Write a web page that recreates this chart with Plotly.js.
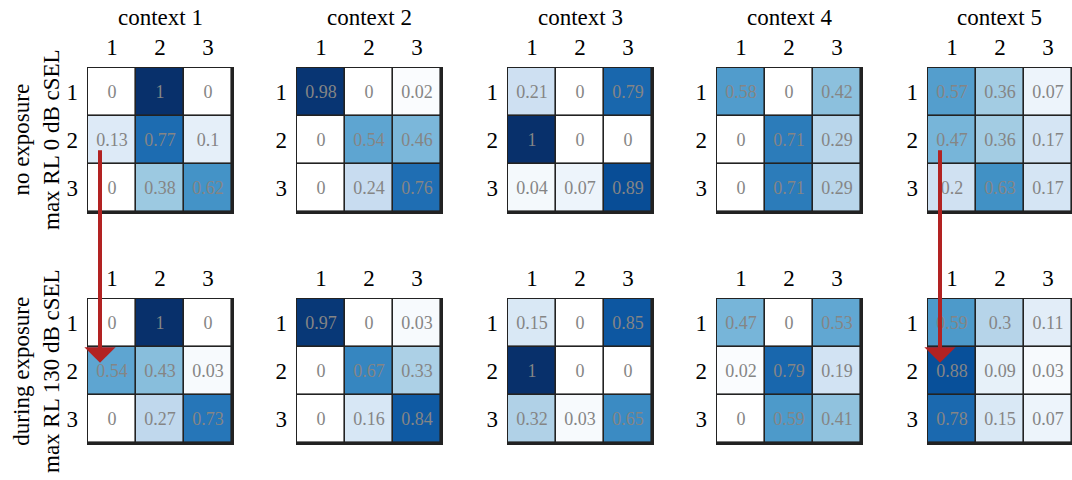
<!DOCTYPE html>
<html>
<head>
<meta charset="utf-8">
<script src="https://cdn.plot.ly/plotly-3.0.1.min.js"></script>
<style>html,body{margin:0;padding:0;background:#fff;}#chart{width:1072px;height:480px;}</style>
</head>
<body>
<div id="chart"></div>
<script>
// ---- data ----
const contexts = ['context 1', 'context 2', 'context 3', 'context 4', 'context 5'];
const stateLabels = ['1', '2', '3'];
const rowTitles = ['no exposure<br>max RL 0 dB cSEL', 'during exposure<br>max RL 130 dB cSEL'];

// no exposure (max RL 0 dB cSEL)
const noExp1 = [[0, 1, 0], [0.13, 0.77, 0.1], [0, 0.38, 0.62]];
const noExp2 = [[0.98, 0, 0.02], [0, 0.54, 0.46], [0, 0.24, 0.76]];
const noExp3 = [[0.21, 0, 0.79], [1, 0, 0], [0.04, 0.07, 0.89]];
const noExp4 = [[0.58, 0, 0.42], [0, 0.71, 0.29], [0, 0.71, 0.29]];
const noExp5 = [[0.57, 0.36, 0.07], [0.47, 0.36, 0.17], [0.2, 0.63, 0.17]];

// during exposure (max RL 130 dB cSEL)
const duringExp1 = [[0, 1, 0], [0.54, 0.43, 0.03], [0, 0.27, 0.73]];
const duringExp2 = [[0.97, 0, 0.03], [0, 0.67, 0.33], [0, 0.16, 0.84]];
const duringExp3 = [[0.15, 0, 0.85], [1, 0, 0], [0.32, 0.03, 0.65]];
const duringExp4 = [[0.47, 0, 0.53], [0.02, 0.79, 0.19], [0, 0.59, 0.41]];
const duringExp5 = [[0.59, 0.3, 0.11], [0.88, 0.09, 0.03], [0.78, 0.15, 0.07]];

// highlighted transitions (context index, row state, column state)
const arrowContexts = [0, 4];
const arrowState = 1; // state 2, first column

// ---- build ----
const rows = [[noExp1, noExp2, noExp3, noExp4, noExp5], [duringExp1, duringExp2, duringExp3, duringExp4, duringExp5]];
const W = 1072, H = 480;
const gridLeft = [88, 297, 508, 717, 928];
const gridW = 144;
const gridTop = [68, 299];
const gridH = 144;
const serif = 'Liberation Serif, Times New Roman, serif';
const blues = [
  [0, '#ffffff'], [0.125, '#deebf7'], [0.25, '#c6dbef'], [0.375, '#9ecae1'],
  [0.5, '#6baed6'], [0.625, '#4292c6'], [0.75, '#2171b5'], [0.875, '#08519c'], [1, '#08306b']
];
const idx = [0, 1, 2];

const traces = [];
const layout = {
  width: W, height: H,
  margin: {l: 0, r: 0, t: 0, b: 0},
  paper_bgcolor: '#ffffff',
  plot_bgcolor: '#222222',
  showlegend: false,
  font: {family: serif, color: '#000'},
  annotations: [],
  shapes: []
};

rows.forEach((mats, r) => {
  mats.forEach((z, c) => {
    const n = r * 5 + c + 1;
    const xa = 'x' + (n === 1 ? '' : n), ya = 'y' + (n === 1 ? '' : n);
    traces.push({
      type: 'heatmap', z: z, x: idx, y: idx,
      xaxis: xa, yaxis: ya,
      zmin: 0, zmax: 1, colorscale: blues, showscale: false,
      xgap: 1.6, ygap: 1.6,
      texttemplate: '%{z}',
      textfont: {family: serif, size: 18, color: '#858585'},
      hoverinfo: 'skip'
    });
    const xk = 'xaxis' + (n === 1 ? '' : n), yk = 'yaxis' + (n === 1 ? '' : n);
    layout[xk] = {
      domain: [gridLeft[c] / W, (gridLeft[c] + gridW) / W],
      anchor: ya, side: 'top', range: [-0.5, 2.5],
      tickmode: 'array', tickvals: idx, ticktext: stateLabels,
      ticks: '', ticklabelstandoff: 2,
      tickfont: {family: serif, size: 23, color: '#000'},
      showgrid: false, zeroline: false,
      showline: true, mirror: true, linecolor: '#222', linewidth: 1.5
    };
    layout[yk] = {
      domain: [1 - (gridTop[r] + gridH) / H, 1 - gridTop[r] / H],
      anchor: xa, range: [2.5, -0.5],
      tickmode: 'array', tickvals: idx, ticktext: stateLabels,
      ticks: '', ticklabelstandoff: 4,
      tickfont: {family: serif, size: 23, color: '#000'},
      showgrid: false, zeroline: false,
      showline: true, mirror: true, linecolor: '#222', linewidth: 1.5
    };
    if (r === 0) {
      layout.annotations.push({
        text: contexts[c], showarrow: false,
        xref: xa + ' domain', yref: 'paper', x: 0.5, y: 1 - 18 / H,
        xanchor: 'center', yanchor: 'middle',
        font: {family: serif, size: 23, color: '#000'}
      });
    }
  });
  layout.annotations.push({
    text: rowTitles[r], showarrow: false, textangle: -90,
    xref: 'paper', yref: 'paper', x: 36 / W,
    y: 1 - (gridTop[r] + gridH / 2) / H,
    xanchor: 'center', yanchor: 'middle', align: 'center',
    font: {family: serif, size: 23, color: '#000'}
  });
});

arrowContexts.forEach(c => {
  const n = 5 + c + 1;
  layout.annotations.push({
    text: '', showarrow: true,
    xref: 'x' + n, yref: 'y' + n,
    x: -0.25, y: arrowState - 0.17,
    ax: 0, ay: -214,
    arrowhead: 1, arrowsize: 1.3, arrowwidth: 4,
    arrowcolor: '#b22222', standoff: 0
  });
});

Plotly.newPlot('chart', traces, layout, {staticPlot: true, displayModeBar: false});
</script>
</body>
</html>
